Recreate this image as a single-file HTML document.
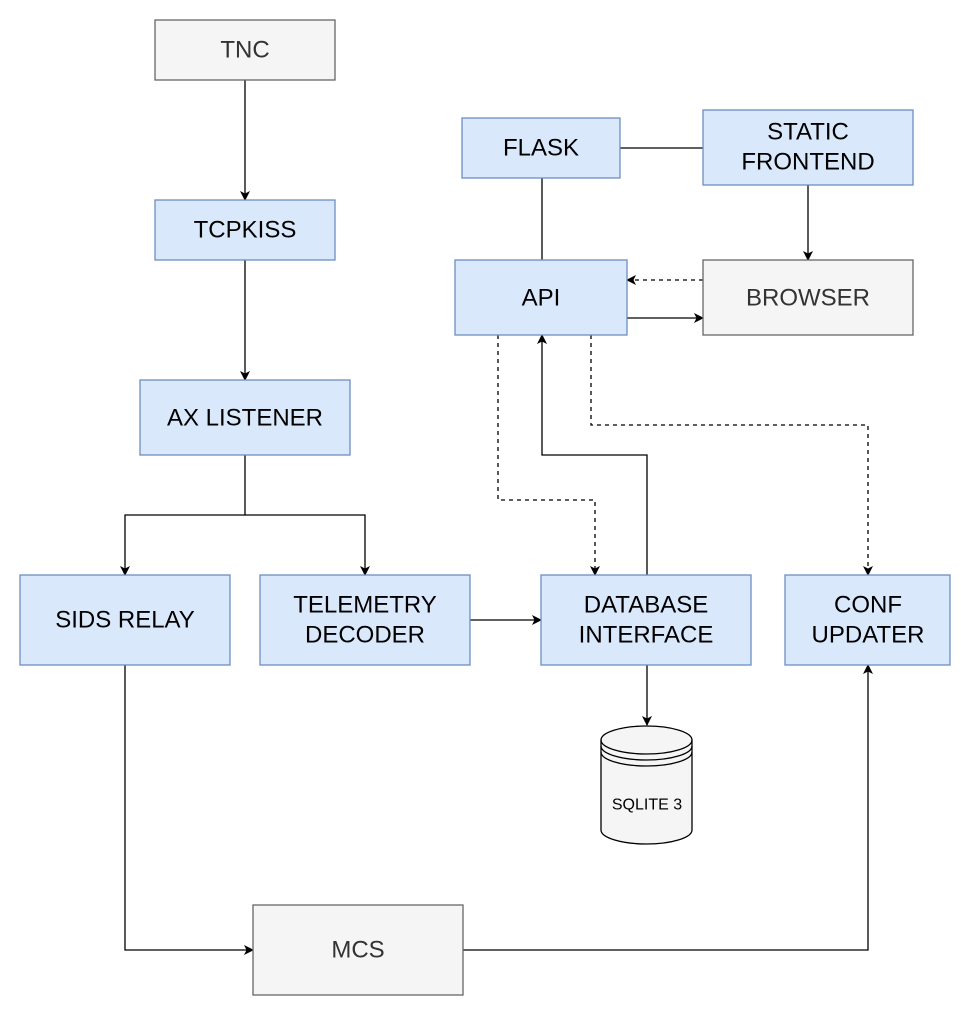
<!DOCTYPE html>
<html><head><meta charset="utf-8"><style>
html,body{margin:0;padding:0;background:#fff;}
svg{display:block;}
text{font-family:"Liberation Sans",Arial,sans-serif;font-size:24px;fill:#000;text-anchor:middle;dominant-baseline:central;}
.g{fill:#f5f5f5;stroke:#666;stroke-width:1.3;}
.b{fill:#dae8fc;stroke:#6c8ebf;stroke-width:1.3;}
.l{fill:none;stroke:#000;stroke-width:1.3;}
.d{fill:none;stroke:#000;stroke-width:1.3;stroke-dasharray:4,4;}
.gt{fill:#333;}
</style></head><body>
<svg width="972" height="1017" viewBox="0 0 972 1017" xmlns="http://www.w3.org/2000/svg">
<defs><marker id="a" markerWidth="10" markerHeight="10" refX="9" refY="5" orient="auto" markerUnits="userSpaceOnUse"><path d="M0,0 L10,5 L0,10 L2.5,5 Z" fill="#000"/></marker></defs>
<path class="l" d="M245 80 V200" marker-end="url(#a)"/>
<path class="l" d="M245 260 V380" marker-end="url(#a)"/>
<path class="l" d="M245 455 V515 H125 V575" marker-end="url(#a)"/>
<path class="l" d="M245 515 H365 V575" marker-end="url(#a)"/>
<path class="l" d="M470 620 H541" marker-end="url(#a)"/>
<path class="l" d="M647 665 V725" marker-end="url(#a)"/>
<path class="l" d="M647 575 V455 H542 V335" marker-end="url(#a)"/>
<path class="d" d="M498 335 V500 H595 V575" marker-end="url(#a)"/>
<path class="d" d="M591 335 V425 H868 V575" marker-end="url(#a)"/>
<path class="l" d="M542 178 V260"/>
<path class="l" d="M620 148 H703"/>
<path class="l" d="M808 185 V260" marker-end="url(#a)"/>
<path class="d" d="M703 280 H627" marker-end="url(#a)"/>
<path class="l" d="M627 318 H703" marker-end="url(#a)"/>
<path class="l" d="M125 665 V950 H253" marker-end="url(#a)"/>
<path class="l" d="M463 950 H868 V665" marker-end="url(#a)"/>
<rect class="g" x="155" y="20" width="180" height="60"/><text class="gt" x="245" y="50">TNC</text>
<rect class="b" x="155" y="200" width="180" height="60"/><text x="245" y="230">TCPKISS</text>
<rect class="b" x="140" y="380" width="210" height="75"/><text x="245" y="418">AX LISTENER</text>
<rect class="b" x="20" y="575" width="210" height="90"/><text x="125" y="620">SIDS RELAY</text>
<rect class="b" x="260" y="575" width="210" height="90"/><text x="365" y="605">TELEMETRY</text><text x="365" y="635">DECODER</text>
<rect class="b" x="541" y="575" width="210" height="90"/><text x="646" y="605">DATABASE</text><text x="646" y="635">INTERFACE</text>
<rect class="b" x="785" y="575" width="165" height="90"/><text x="868" y="605">CONF</text><text x="868" y="635">UPDATER</text>
<rect class="b" x="462" y="118" width="158" height="60"/><text x="541" y="148">FLASK</text>
<rect class="b" x="703" y="110" width="210" height="75"/><text x="808" y="132">STATIC</text><text x="808" y="162">FRONTEND</text>
<rect class="b" x="455" y="260" width="172" height="75"/><text x="541" y="298">API</text>
<rect class="g" x="703" y="260" width="210" height="75"/><text class="gt" x="808" y="298">BROWSER</text>
<rect class="g" x="253" y="905" width="210" height="90"/><text class="gt" x="358" y="950">MCS</text>
<path d="M601 740 A45.5 14 0 0 1 692 740 V830 A45.5 14 0 0 1 601 830 Z" fill="#f5f5f5" stroke="#000" stroke-width="1.3"/>
<path d="M601 740 A45.5 14 0 0 0 692 740 M601 746 A45.5 14 0 0 0 692 746 M601 752 A45.5 14 0 0 0 692 752" fill="none" stroke="#000" stroke-width="1.3"/>
<text x="647" y="805" style="font-size:16px">SQLITE 3</text>
</svg>
</body></html>
